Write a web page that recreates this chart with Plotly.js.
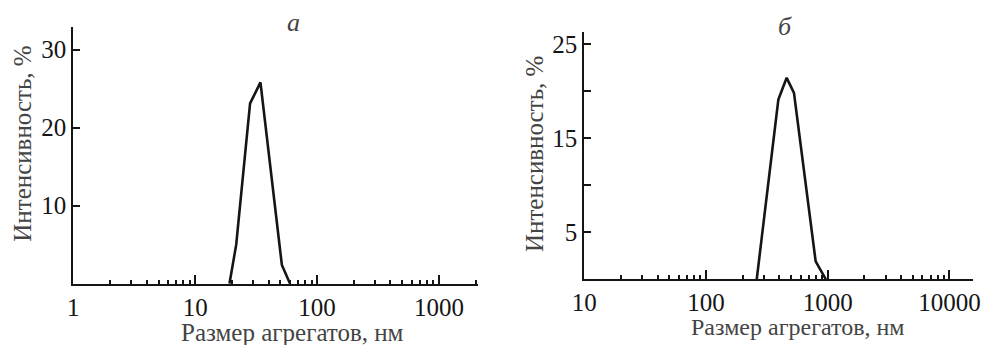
<!DOCTYPE html>
<html><head><meta charset="utf-8">
<script src="https://cdn.plot.ly/plotly-3.0.1.min.js"></script>
<style>html,body{margin:0;padding:0;background:#fff}</style>
</head><body><div id="chart"></div>
<script>
// Panel а
const sizeA = [19.1, 21.7, 28.2, 34.3, 51.4, 60];
const intensityA = [0, 5, 23.1, 25.8, 2.4, 0];
// Panel б
const sizeB = [261, 393, 460, 528, 796, 965];
const intensityB = [0, 19.1, 21.4, 19.8, 1.9, 0];

const panelTitles = ['а', 'б'];
const xTitle = 'Размер агрегатов, нм';
const yTitle = 'Интенсивность, %';
const xTickValsA = [1, 10, 100, 1000];
const xTickValsB = [10, 100, 1000, 10000];
const yTickValsA = [10, 20, 30];
const yTickTextA = ['10', '20', '30'];
const yTickValsB = [5, 10, 15, 20, 25];
const yTickTextB = ['5', '', '15', '', '25'];

function minorVals(majors) {
  const out = [];
  majors.forEach(d => { for (let k = 2; k <= 9; k++) out.push(k * d); });
  return out;
}

const INK = '#151515';

function xAxis(domain, range, vals, yref) {
  return {
    type: 'log', domain: domain, range: range, anchor: yref, color: INK,
    tickmode: 'array', tickvals: vals, ticktext: vals.map(String),
    ticks: 'inside', ticklen: 9, tickwidth: 2, tickcolor: INK,
    showline: true, linewidth: 2, linecolor: INK,
    showgrid: false, zeroline: false,
    tickfont: {family: 'Liberation Serif', size: 25},
    minor: {tickmode: 'array', tickvals: minorVals(vals), ticks: 'inside', ticklen: 4, tickwidth: 2, tickcolor: INK, showgrid: false}
  };
}
function yAxis(domain, range, vals, text, xref) {
  return {
    domain: domain, range: range, anchor: xref, color: INK,
    tickmode: 'array', tickvals: vals, ticktext: text,
    ticks: 'inside', ticklen: 7, tickwidth: 2, tickcolor: INK,
    showline: true, linewidth: 2, linecolor: INK,
    showgrid: false, zeroline: false,
    tickfont: {family: 'Liberation Serif', size: 25}
  };
}

const traces = [
  {x: sizeA, y: intensityA, xaxis: 'x', yaxis: 'y', mode: 'lines', line: {color: INK, width: 2.6}, showlegend: false},
  {x: sizeB, y: intensityB, xaxis: 'x2', yaxis: 'y2', mode: 'lines', line: {color: INK, width: 2.6}, showlegend: false}
];

const W = 984, H = 345;
const px = v => v / W, py = v => (H - v) / H;

function ann(text, x, y, size, extra) {
  return Object.assign({text: text, xref: 'paper', yref: 'paper', x: px(x), y: py(y), xanchor: 'center', yanchor: 'middle', showarrow: false, font: {family: 'Liberation Serif', size: size}}, extra || {});
}

const layout = {
  width: W, height: H,
  margin: {l: 0, r: 0, t: 0, b: 0},
  showlegend: false,
  xaxis: xAxis([px(73.3), px(478)], [0, 3.32], xTickValsA, 'y'),
  yaxis: yAxis([py(283.7), py(27)], [0, 32.9], yTickValsA, yTickTextA, 'x'),
  xaxis2: xAxis([px(584.3), px(973.3)], [1, 4.196], xTickValsB, 'y2'),
  yaxis2: yAxis([py(279.3), py(31.7)], [0, 26.3], yTickValsB, yTickTextB, 'x2'),
  annotations: [
    ann('<i>' + panelTitles[0] + '</i>', 293, 22, 26),
    ann('<i>' + panelTitles[1] + '</i>', 785, 27, 26),
    ann(xTitle, 292, 332, 25),
    ann(xTitle, 797.5, 327, 24),
    ann(yTitle, 21.7, 144, 25, {textangle: -90}),
    ann(yTitle, 534, 154, 25, {textangle: -90})
  ]
};

Plotly.newPlot('chart', traces, layout, {displayModeBar: false, staticPlot: true});
</script>
</body></html>
